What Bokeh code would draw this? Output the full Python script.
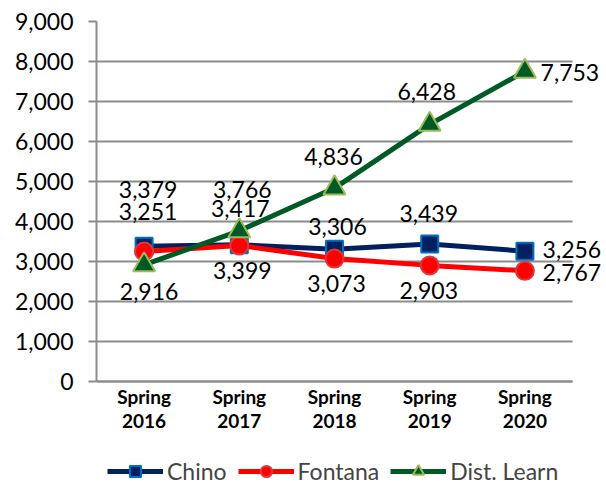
from bokeh.plotting import figure
from bokeh.models import (ColumnDataSource, FixedTicker, NumeralTickFormatter,
                          Legend, LegendItem, Range1d, LabelSet)
from bokeh.core.properties import value
from bokeh.embed import file_html
from bokeh.resources import INLINE

categories = ["Spring\n2016", "Spring\n2017", "Spring\n2018", "Spring\n2019", "Spring\n2020"]
chino = [3379, 3417, 3306, 3439, 3256]
fontana = [3251, 3399, 3073, 2903, 2767]
dist_learn = [2916, 3766, 4836, 6428, 7753]
y_ticks = [0, 1000, 2000, 3000, 4000, 5000, 6000, 7000, 8000, 9000]

# label offsets in screen pixels (styling); positive dy = up
chino_dx = [4, 1, 3, -1, 47]
chino_dy = [57, 36, 23, 30, 2]
fontana_dx = [4, 3, 2, -1, 47]
fontana_dy = [40, -25, -25, -25, -2]
dl_dx = [5, 3, -1, -3, 45]
dl_dy = [-27, 41, 32, 33, -1]

FONT = "Lato"
xs = list(range(len(categories)))
n = len(categories)
x_lo, x_hi = -0.5, n - 0.5
pad_right = 32 / 95.2  # room for right-hand data labels (in category units)

# frame extends below the zero line and to the right so legend and labels sit inside it
p = figure(frame_width=508, frame_height=464, output_backend="svg", toolbar_location=None,
           x_range=Range1d(x_lo, x_hi + pad_right), y_range=Range1d(-2600, 9000),
           min_border_left=96, min_border_right=0, min_border_top=21, min_border_bottom=0)
p.outline_line_color = None
p.background_fill_color = "white"
p.border_fill_color = "white"

# axes
p.yaxis.ticker = FixedTicker(ticks=y_ticks)
p.yaxis.bounds = (0, 9000)
p.yaxis.formatter = NumeralTickFormatter(format="0,0")
p.yaxis.major_label_text_font = FONT
p.yaxis.major_label_text_font_size = "23px"
p.yaxis.major_label_text_color = "black"
p.yaxis.axis_line_color = "#8c8c8c"
p.yaxis.axis_line_width = 2
p.yaxis.major_tick_line_color = "#8c8c8c"
p.yaxis.major_tick_line_width = 2
p.yaxis.major_tick_out = 8
p.yaxis.major_tick_in = 0
p.yaxis.minor_tick_line_color = None
p.yaxis.major_label_standoff = 15

p.xaxis.fixed_location = 0
p.xaxis.bounds = (x_lo, x_hi)
p.xaxis.ticker = FixedTicker(ticks=xs)
p.xaxis.major_label_overrides = {i: c for i, c in enumerate(categories)}
p.xaxis.major_label_text_font = FONT
p.xaxis.major_label_text_font_style = "bold"
p.xaxis.major_label_text_font_size = "19px"
p.xaxis.major_label_text_line_height = 1.05
p.xaxis.major_label_text_color = "black"
p.xaxis.axis_line_color = "#8c8c8c"
p.xaxis.axis_line_width = 2
p.xaxis.major_tick_line_color = None
p.xaxis.minor_tick_line_color = None
p.xaxis.major_label_standoff = -3

p.xgrid.grid_line_color = None
grid = p.ygrid[0]
grid.ticker = FixedTicker(ticks=y_ticks)
grid.grid_line_color = "#8c8c8c"
grid.grid_line_width = 2
try:
    if "cross_bounds" in grid.properties():
        grid.cross_bounds = (x_lo, x_hi)
except Exception:
    pass

series = [
    ("Chino", chino, chino_dx, chino_dy, "#002060", "square", "#002060", "#0070C0", 17),
    ("Fontana", fontana, fontana_dx, fontana_dy, "#FF0000", "circle", "#FF0000", "#D83B3B", 18),
    ("Dist. Learn", dist_learn, dl_dx, dl_dy, "#005A25", "triangle", "#005A25", "#9BBB59", 22),
]

items = []
for name, vals, dx, dy, lc, mk, fc, bc, sz in series:
    src = ColumnDataSource(dict(x=xs, y=vals, lab=[f"{v:,}" for v in vals], dx=dx, dy=dy))
    ln = p.line("x", "y", source=src, line_color=lc, line_width=5)
    sc = p.scatter("x", "y", source=src, marker=mk, size=sz, fill_color=fc,
                   line_color=bc, line_width=2)
    items.append((name, ln, sc, src))

for name, ln, sc, src in items:
    p.add_layout(LabelSet(x="x", y="y", text="lab", source=src, x_offset="dx", y_offset="dy",
                          text_font=value(FONT), text_font_size=value("23px"),
                          text_color=value("black"),
                          text_align="center", text_baseline="middle"))

legend = Legend(items=[LegendItem(label=n_, renderers=[ln, sc]) for n_, ln, sc, _ in items],
                orientation="horizontal", location=(11, 0),
                label_text_font=FONT, label_text_font_size="23px",
                glyph_width=56, glyph_height=28, label_height=28, spacing=11, padding=0, margin=0,
                label_standoff=4, border_line_color=None, background_fill_alpha=0)
p.add_layout(legend)

open("out.html", "w").write(file_html(p, INLINE))
